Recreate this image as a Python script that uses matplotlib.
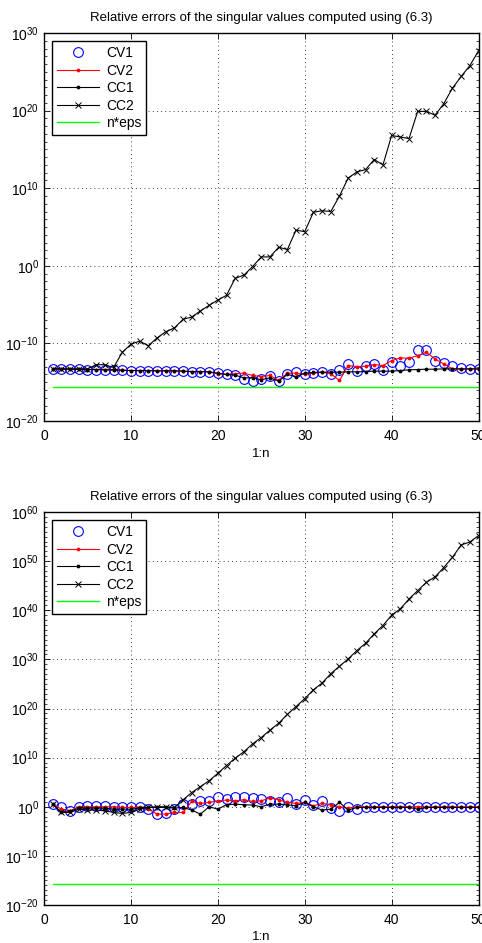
import numpy as np
import matplotlib
matplotlib.use('Agg')
import matplotlib.pyplot as plt
from matplotlib.ticker import FixedLocator, LogFormatterMathtext, NullFormatter

plt.rcParams['font.family'] = ['Liberation Sans', 'DejaVu Sans']
plt.rcParams['mathtext.fontset'] = 'custom'
plt.rcParams['mathtext.rm'] = 'Liberation Sans'
plt.rcParams['mathtext.it'] = 'Liberation Sans'
plt.rcParams['mathtext.default'] = 'regular'

TITLE = 'Relative errors of the singular values computed using (6.3)'
n = np.arange(1, 51)
n_eps = 2.2e-16

# log10 of the relative errors (top panel)
cv1_top = [-13.28, -13.28, -13.32, -13.32, -13.36, -13.36, -13.40, -13.40, -13.45, -13.49,
           -13.49, -13.49, -13.53, -13.53, -13.53, -13.57, -13.62, -13.62, -13.66, -13.83,
           -13.91, -14.09, -14.55, -14.85, -14.60, -14.17, -14.85, -13.91, -13.74, -14.00,
           -13.83, -13.70, -14.00, -13.36, -12.64, -13.57, -12.85, -12.64, -13.40, -12.43,
           -12.85, -12.43, -10.85, -10.85, -12.30, -12.55, -12.85, -13.19, -13.28, -13.28]
cv2_top = [-13.28, -13.28, -13.32, -13.32, -13.36, -13.36, -13.40, -13.40, -13.45, -13.49,
           -13.49, -13.49, -13.53, -13.53, -13.53, -13.57, -13.62, -13.62, -13.66, -13.91,
           -14.00, -13.91, -13.83, -14.13, -14.26, -14.13, -14.77, -13.83, -13.83, -14.00,
           -13.83, -13.70, -13.91, -14.77, -12.85, -12.98, -12.94, -12.72, -12.85, -12.21,
           -11.87, -11.91, -11.57, -11.15, -12.00, -12.64, -13.28, -13.28, -13.28, -13.28]
cc1_top = [-13.28, -13.28, -13.32, -13.32, -13.36, -13.36, -13.40, -13.40, -13.45, -13.49,
           -13.49, -13.49, -13.53, -13.53, -13.53, -13.57, -13.62, -13.62, -13.66, -13.83,
           -14.00, -14.09, -14.43, -14.43, -14.68, -14.43, -14.85, -14.00, -14.26, -13.83,
           -13.74, -13.70, -13.70, -13.70, -13.66, -13.66, -13.62, -13.57, -13.57, -13.57,
           -13.49, -13.40, -13.36, -13.32, -13.32, -13.28, -13.28, -13.28, -13.28, -13.28]
cc2_top = [-13.28, -13.28, -13.28, -13.28, -13.28, -12.74, -12.74, -13.10, -11.15, -10.10,
           -9.70, -10.30, -9.30, -8.50, -8.00, -6.90, -6.60, -5.80, -5.10, -4.40,
           -3.80, -1.60, -1.20, -0.10, 1.15, 1.15, 2.40, 2.10, 4.60, 4.40,
           6.90, 7.10, 7.00, 9.00, 11.30, 12.10, 12.40, 13.70, 13.00, 16.80,
           16.60, 16.40, 19.90, 19.90, 19.40, 20.90, 22.90, 24.40, 25.80, 27.70]

# log10 of the relative errors (bottom panel)
cv1_bot = [0.54, -0.14, -0.82, 0.00, 0.20, 0.07, 0.07, 0.00, 0.00, -0.14,
           -0.14, -0.48, -1.50, -1.36, -0.48, 0.60, 0.54, 1.22, 1.09, 1.90,
           1.56, 1.90, 1.90, 1.77, 1.56, 1.09, 0.88, 1.77, 0.54, 1.36,
           0.41, 1.22, -0.27, -0.82, 0.00, -0.48, -0.14, -0.14, -0.14, -0.14,
           -0.14, -0.14, -0.14, -0.14, -0.14, -0.14, -0.14, -0.14, -0.14, -0.14]
cv2_bot = [0.54, -0.48, -0.82, 0.00, 0.00, 0.00, 0.00, 0.00, -0.14, -0.14,
           -0.14, -0.48, -1.50, -1.50, -1.16, -1.16, 1.09, 0.68, 0.88, 1.22,
           1.36, 1.22, 1.43, 1.09, 1.22, 1.77, 1.43, 0.88, 0.68, 0.88,
           0.20, 0.68, 0.41, 0.00, -0.27, 0.00, 0.00, 0.00, 0.00, 0.00,
           0.00, 0.00, 0.00, 0.00, 0.00, 0.00, 0.00, 0.00, 0.00, 0.00]
cc1_bot = [0.54, -1.16, -0.95, -0.27, -0.27, -0.27, -0.27, -0.48, -0.48, -0.48,
           -0.27, -0.14, -0.14, -0.14, -0.27, -0.14, -0.68, -1.50, 0.00, -0.48,
           0.41, 0.54, 0.41, 0.34, 0.00, 0.54, 0.54, 0.41, 0.20, 0.88,
           0.00, -0.68, -0.48, 0.88, -0.68, -0.14, -0.14, -0.14, -0.14, -0.14,
           -0.14, -0.14, -0.48, -0.14, -0.14, -0.14, -0.14, -0.14, -0.14, -0.14]
cc2_bot = [0.50, -1.16, -1.16, -0.48, -0.68, -0.68, -0.82, -1.16, -1.36, -1.16,
           -0.48, -0.14, 0.00, 0.00, -0.14, 1.40, 2.90, 4.10, 5.30, 6.80,
           8.40, 9.90, 11.20, 12.80, 14.10, 15.60, 17.00, 18.80, 20.40, 22.00,
           23.80, 25.20, 27.10, 28.60, 30.10, 31.80, 33.30, 35.20, 36.90, 39.00,
           40.30, 42.30, 44.00, 45.70, 46.80, 48.70, 50.80, 53.30, 53.90, 55.20]


def draw_panel(ax, cv1, cv2, cc1, cc2, ymin, ymax):
    ax.semilogy(n, 10.0 ** np.array(cv1), 'o', color='b', mfc='none', ms=7, mew=0.8, label='CV1')
    ax.semilogy(n, 10.0 ** np.array(cv2), '.-', color='r', ms=3.5, lw=0.8, label='CV2')
    ax.semilogy(n, 10.0 ** np.array(cc1), '.-', color='k', ms=3.5, lw=0.8, label='CC1')
    ax.semilogy(n, 10.0 ** np.array(cc2), 'x-', color='k', ms=5, mew=0.7, lw=0.8, label='CC2')
    ax.semilogy(n, np.full(len(n), n_eps), '-', color=(0, 1, 0), lw=1.0, label='n*eps')
    ax.set_xlim(0, 50)
    ax.set_ylim(10.0 ** ymin, 10.0 ** ymax)
    ax.set_xticks([0, 10, 20, 30, 40, 50])
    ax.yaxis.set_major_locator(FixedLocator(10.0 ** np.arange(ymin, ymax + 1, 10)))
    ax.yaxis.set_minor_locator(FixedLocator(10.0 ** np.arange(ymin, ymax + 1)))
    ax.yaxis.set_major_formatter(LogFormatterMathtext())
    ax.yaxis.set_minor_formatter(NullFormatter())
    ax.tick_params(which='both', direction='in', top=True, right=True, labelsize=10)
    ax.tick_params(which='major', length=4, width=0.6)
    ax.tick_params(which='minor', length=2, width=0.5)
    ax.tick_params(axis='x', pad=6)
    ax.grid(True, which='major', linestyle=(0, (1, 4)), color='k', lw=0.6)
    for s in ax.spines.values():
        s.set_linewidth(1.0)
    ax.set_title(TITLE, fontsize=9.5, pad=9)
    ax.set_xlabel('1:n', fontsize=9.5, labelpad=3)
    leg = ax.legend(loc='upper left', fontsize=10, fancybox=False, framealpha=1,
                    edgecolor='k', handlelength=3.0, labelspacing=0.25,
                    borderaxespad=0.6, handletextpad=0.5, borderpad=0.35)
    leg.get_frame().set_linewidth(1.0)


fig = plt.figure(figsize=(4.82, 9.43), dpi=100)
ax1 = fig.add_axes([0.0913, 0.5535, 0.9015, 0.4115])
ax2 = fig.add_axes([0.0913, 0.0403, 0.9015, 0.4167])
draw_panel(ax1, cv1_top, cv2_top, cc1_top, cc2_top, -20, 30)
draw_panel(ax2, cv1_bot, cv2_bot, cc1_bot, cc2_bot, -20, 60)
fig.savefig('out.png', dpi=100)
